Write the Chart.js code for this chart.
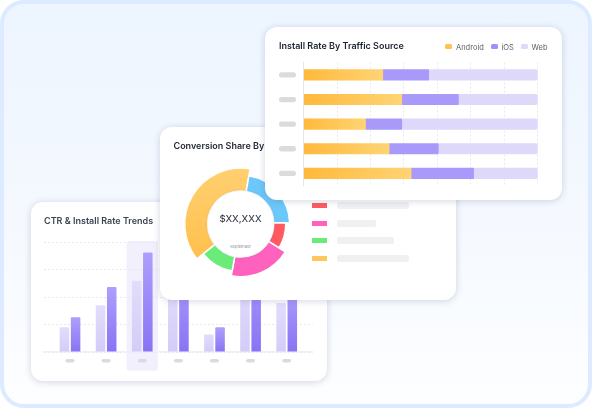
<!DOCTYPE html>
<html>
<head>
<meta charset="utf-8">
<title>Install dashboard</title>
<script src="https://cdn.jsdelivr.net/npm/chart.js@4"></script>
<style>
  html, body { margin: 0; padding: 0; background: #fff; }
  body { width: 592px; height: 408px; overflow: hidden; font-family: Inter, sans-serif; }
  .frame { position: absolute; left: 0; top: 0; width: 584px; height: 400px; border: 4px solid #dcebff; border-radius: 24px;
           background: linear-gradient(180deg, #edf5ff 0%, #f5f9ff 55%, #fdfeff 100%); }
  .card { position: absolute; background: #fff; border-radius: 12px; box-shadow: 0 1px 7px rgba(70,85,120,.24); }
  .card canvas { position: absolute; left: 0; top: 0; }
  .card h3 { position: absolute; margin: 0; font-size: 9px; line-height: 12px; font-weight: 600; color: #1f2433; white-space: nowrap; }
  #trendCard { left: 31px; top: 202px; width: 296px; height: 179px; z-index: 1; }
  #shareCard { left: 160px; top: 127px; width: 296px; height: 173px; z-index: 2; }
  #sourceCard { left: 265px; top: 27px; width: 297px; height: 173px; z-index: 3; }
  #trendCard h3 { left: 13px; top: 13px; color: #3d4352; }
  #shareCard h3 { left: 13.5px; top: 12.5px; }
  #sourceCard h3 { left: 14px; top: 12.5px; }
  .donut-value { position: absolute; left: 40px; width: 81px; top: 85px; text-align: center; font-size: 9.5px; font-weight: 500; line-height: 14px; color: #41424f; }
  .donut-sub { position: absolute; left: 40px; width: 81px; top: 117px; text-align: center; font-size: 4.1px; line-height: 5px; color: #8a8d96; }
  .slice-key { position: absolute; left: 152px; height: 7px; }
  .slice-key i { position: absolute; left: 0; top: 1px; width: 15px; height: 5px; }
  .slice-key b { position: absolute; left: 25px; top: 0; height: 7px; background: #eff0f2; border-radius: 2px; }
  #sourceLegend { position: absolute; left: 180px; top: 16px; font-size: 7.5px; line-height: 10px; color: #5a5d68; }
  #sourceLegend span { position: absolute; top: 0; white-space: nowrap; }
  #sourceLegend i { position: absolute; top: 1px; width: 7px; height: 5px; border-radius: 1.5px; }
</style>
</head>
<body>
<div class="frame"></div>

<div class="card" id="trendCard">
  <canvas id="trendChart" width="296" height="179"></canvas>
  <h3>CTR &amp; Install Rate Trends</h3>
</div>

<div class="card" id="shareCard">
  <canvas id="shareChart" width="296" height="173"></canvas>
  <h3>Conversion Share By Channel</h3>
  <div class="donut-value">$XX,XXX</div>
  <div class="donut-sub">September</div>
  <div id="shareKeys"></div>
</div>

<div class="card" id="sourceCard">
  <canvas id="sourceChart" width="297" height="173"></canvas>
  <h3>Install Rate By Traffic Source</h3>
  <div id="sourceLegend"></div>
</div>

<script>
// data
const trendLabels = ['1', '2', '3', '4', '5', '6', '7'];
const ctrValues = [22.5, 42.6, 65, 60, 16, 70, 44.7];
const installValues = [31.6, 59.3, 90.6, 75, 22.5, 85, 60];
const trendTicks = [0, 25, 50, 75, 100];
const highlightedMonth = 2;

const shareLabels = ['Yellow', 'Blue', 'Red', 'Pink', 'Green'];
const shareValues = [38.4, 21.9, 9.3, 19, 11.4];
const shareReach = [1, 0.875, 0.805, 0.94, 0.855];

const sourceLabels = ['A', 'B', 'C', 'D', 'E'];
const androidValues = [33.8, 41.9, 26.4, 36.5, 45.9];
const iosValues = [19.6, 24.2, 15.5, 21, 26.7];
const webValues = [46.6, 33.9, 58.1, 42.5, 27.4];
const sourceTickCount = 8;

Chart.defaults.animation = false;
Chart.defaults.responsive = false;
Chart.defaults.plugins.legend.display = false;
Chart.defaults.plugins.tooltip.enabled = false;

const PILL = '#d9dbde';
const GRID = '#e8e9ed';

function pill(ctx, x, y, w, h) {
  ctx.fillStyle = PILL;
  ctx.beginPath();
  ctx.roundRect(x - w / 2, y - h / 2, w, h, h / 2);
  ctx.fill();
}

// vertical gradient for a bar, from its value to the baseline
function barGradient(c, top, bottom) {
  const { chart, parsed } = c;
  if (!parsed) return top;
  const yScale = chart.scales.y;
  const y0 = yScale.getPixelForValue(parsed.y);
  const y1 = yScale.getPixelForValue(0);
  if (!isFinite(y0) || !isFinite(y1)) return top;
  const g = chart.ctx.createLinearGradient(0, y0, 0, y1);
  g.addColorStop(0, top);
  g.addColorStop(1, bottom);
  return g;
}

// horizontal gradient over the android part of a row
function androidGradient(c) {
  if (!c.parsed) return '#ffc250';
  const xScale = c.chart.scales.x;
  const x0 = xScale.getPixelForValue(0);
  const x1 = xScale.getPixelForValue(c.parsed.x);
  if (!isFinite(x0) || !isFinite(x1)) return '#ffc250';
  const g = c.chart.ctx.createLinearGradient(x0, 0, x1, 0);
  g.addColorStop(0, '#ffb93c');
  g.addColorStop(1, '#ffd474');
  return g;
}

// trend chart
new Chart(document.getElementById('trendChart'), {
  type: 'bar',
  data: {
    datasets: [
      { label: 'CTR', data: ctrValues.map((y, x) => ({ x, y })), borderRadius: 1,
        backgroundColor: c => barGradient(c, '#e2ddfb', '#d3ccf9') },
      { label: 'Install Rate', data: installValues.map((y, x) => ({ x, y })), borderRadius: 1,
        backgroundColor: c => barGradient(c, '#ad9ffc', '#8a73f4') }
    ]
  },
  options: {
    layout: { padding: { left: 13, right: 14.3, top: 40.3, bottom: 29 } },
    categoryPercentage: 0.62,
    barPercentage: 0.85,
    scales: {
      x: {
        type: 'linear', min: -0.72, max: 6.72, offset: false,
        afterBuildTicks: s => { s.ticks = trendLabels.map((_, i) => ({ value: i })); },
        grid: { display: false, drawTicks: false },
        ticks: { display: false },
        border: { color: '#eef0f3', width: 1.5 }
      },
      y: {
        min: trendTicks[0], max: trendTicks[trendTicks.length - 1],
        afterBuildTicks: s => { s.ticks = trendTicks.map(value => ({ value })); },
        grid: { color: GRID, drawTicks: false },
        ticks: { display: false },
        border: { display: false, dash: [2, 2] }
      }
    }
  },
  plugins: [{
    id: 'monthBandAndPills',
    beforeDraw(chart) {
      const { ctx, scales: { x } } = chart;
      const cx = x.getPixelForValue(highlightedMonth);
      ctx.save();
      ctx.fillStyle = '#f3f0fe';
      ctx.beginPath();
      ctx.roundRect(cx - 15.7, 39, 31.4, 129.7, 3);
      ctx.fill();
      ctx.restore();
    },
    afterDraw(chart) {
      const { ctx, scales: { x }, chartArea } = chart;
      trendLabels.forEach((_, i) => pill(ctx, x.getPixelForValue(i), chartArea.bottom + 8.7, 9, 3.6));
    }
  }]
});

// donut chart
const shareColors = ['#ffc65c', '#6cc7fa', '#ff5a5f', '#ff62be', '#6bec78'];

new Chart(document.getElementById('shareChart'), {
  type: 'doughnut',
  data: {
    labels: shareLabels,
    datasets: [{
      data: shareValues,
      borderColor: '#fff',
      borderWidth: 1.5,
      backgroundColor: c => {
        if (c.dataIndex !== 0 || !c.chart.chartArea) return shareColors[c.dataIndex];
        const a = c.chart.chartArea;
        const g = c.chart.ctx.createLinearGradient(0, a.top, 0, a.bottom);
        g.addColorStop(0, '#ffd070');
        g.addColorStop(1, '#ffbc45');
        return g;
      }
    }]
  },
  options: {
    rotation: 231.4,
    layout: { padding: { left: 24.7, right: 159.3, top: 41, bottom: 20 } }
  },
  plugins: [{
    id: 'unevenRing',
    afterDatasetsUpdate(chart) {
      const meta = chart.getDatasetMeta(0);
      const full = Math.min(chart.chartArea.width, chart.chartArea.height) / 2;
      meta.data.forEach((arc, i) => {
        arc.outerRadius = full * shareReach[i];
        arc.innerRadius = full * 0.59;
      });
    },
    afterDraw(chart) {
      const { ctx } = chart;
      const arc = chart.getDatasetMeta(0).data[0];
      ctx.save();
      ctx.shadowColor = 'rgba(70,85,120,.18)';
      ctx.shadowBlur = 3;
      ctx.fillStyle = '#fff';
      ctx.beginPath();
      ctx.arc(arc.x, arc.y, arc.innerRadius, 0, Math.PI * 2);
      ctx.fill();
      ctx.restore();
    }
  }]
});

const shareKeys = document.getElementById('shareKeys');
[[2, 72], [3, 38.7], [4, 57.3], [0, 72]].forEach(([slice, w], i) => {
  const row = document.createElement('div');
  row.className = 'slice-key';
  row.style.top = (75 + i * 17.6) + 'px';
  row.innerHTML = '<i style="background:' + shareColors[slice] + '"></i><b style="width:' + w + 'px"></b>';
  shareKeys.appendChild(row);
});

// traffic source chart
const sourceChart = new Chart(document.getElementById('sourceChart'), {
  type: 'bar',
  data: {
    labels: sourceLabels,
    datasets: [
      { label: 'Android', data: androidValues, backgroundColor: androidGradient, swatch: '#ffc250' },
      { label: 'iOS', data: iosValues, backgroundColor: '#a899fb', swatch: '#a18ffa' },
      { label: 'Web', data: webValues, backgroundColor: '#ded8fb', swatch: '#ded8fb' }
    ]
  },
  options: {
    indexAxis: 'y',
    layout: { padding: { left: 38.7, right: 24.3, top: 35.6, bottom: 14.3 } },
    datasets: { bar: { barThickness: 10.5, borderRadius: 2.5, borderSkipped: false } },
    scales: {
      x: {
        stacked: true, min: 0, max: 100,
        grid: { color: GRID, drawTicks: false },
        ticks: { display: false, count: sourceTickCount },
        border: { display: false, dash: [2, 2] }
      },
      y: {
        stacked: true,
        grid: { display: false, drawTicks: false },
        ticks: { display: false },
        border: { color: '#e6e7ea' }
      }
    }
  },
  plugins: [{
    id: 'rowPills',
    afterDraw(chart) {
      const { ctx, scales: { y }, chartArea } = chart;
      sourceLabels.forEach((_, i) => pill(ctx, chartArea.left - 16.2, y.getPixelForValue(i), 17, 5.3));
    }
  }]
});

// html legend for the source card
const legendSpots = [[0, 11], [45.5, 56.5], [75.5, 86.5]];
const sourceLegend = document.getElementById('sourceLegend');
sourceChart.data.datasets.forEach((ds, i) => {
  const swatch = document.createElement('i');
  swatch.style.left = legendSpots[i][0] + 'px';
  swatch.style.background = ds.swatch;
  const text = document.createElement('span');
  text.style.left = legendSpots[i][1] + 'px';
  text.textContent = ds.label;
  sourceLegend.append(swatch, text);
});
</script>
</body>
</html>
